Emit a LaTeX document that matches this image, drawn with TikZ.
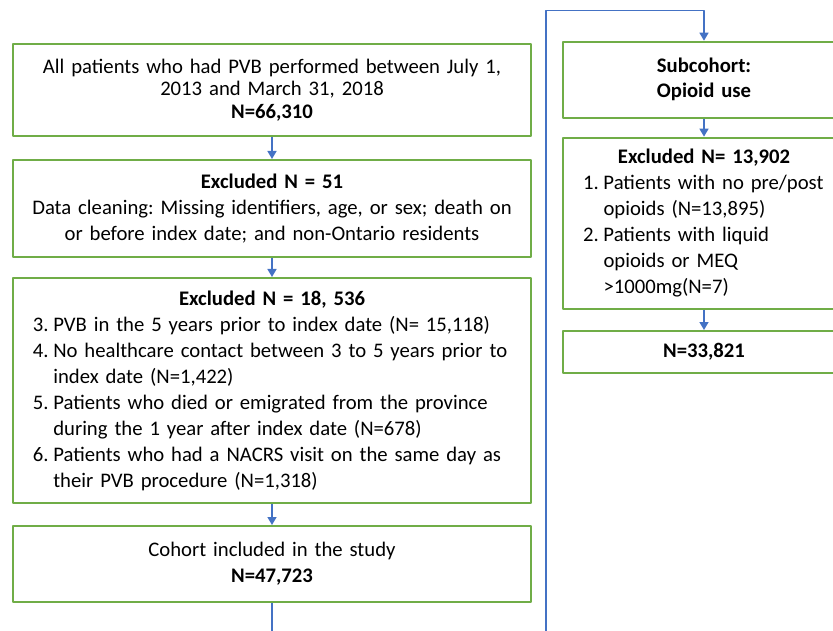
\documentclass[tikz,border=0pt]{standalone}
\usepackage{fontspec}
\setmainfont{Carlito}
\usetikzlibrary{arrows.meta}
\definecolor{boxgreen}{HTML}{70AD47}
\definecolor{lineblue}{HTML}{4472C4}
\newcommand{\listitem}[2]{\par\hangindent=20.5pt\hangafter=1\noindent\makebox[20.5pt][l]{#1}#2}
\frenchspacing
\begin{document}
\begin{tikzpicture}[x=1pt,y=-1pt,>={Triangle[width=9pt,length=8pt]}, line join=round,
	box/.style={draw=boxgreen,line width=2pt,inner sep=0pt,inner xsep=10pt,font=\fontsize{20.7}{26}\selectfont,align=center},
	left/.style={box,minimum width=517.4pt,text width=497.4pt},
	right/.style={box,minimum width=282pt,text width=262pt},
	arr/.style={draw=lineblue,line width=1.5pt,->}]
	\def\lx{272} \def\rx{704} % column centres
	
	\useasboundingbox (0,0) rectangle (833,631);
	\clip (0,0) rectangle (833,631);
	
	% main cohort
	\node[left,minimum height=92pt,font=\fontsize{20.7}{22.5}\selectfont] (all) at (\lx,90)
		{All patients who had PVB performed between July 1,\\ 2013 and March 31, 2018\\ \textbf{N=66,310}};
	\node[left,minimum height=97pt] (clean) at (\lx,208.5)
		{\textbf{Excluded N = 51}\\ Data cleaning: Missing identifiers, age, or sex; death on\\ or before index date; and non-Ontario residents};
	\node[left,minimum height=225pt,align=left] (excl) at (\lx,390.5)
		{{\centering\textbf{Excluded N = 18, 536}\par}\leftskip=9.5pt
		\listitem{3.}{PVB in the 5 years prior to index date (N= 15,118)}
		\listitem{4.}{No healthcare contact between 3 to 5 years prior to\newline index date (N=1,422)}
		\listitem{5.}{Patients who died or emigrated from the province\newline during the 1 year after index date (N=678)}
		\listitem{6.}{Patients who had a NACRS visit on the same day as\newline their PVB procedure (N=1,318)}\par};
	\node[left,minimum height=76pt] (cohort) at (\lx,564)
		{Cohort included in the study\\ \textbf{N=47,723}};
	
	% subcohort
	\node[right,minimum height=76pt,font=\fontsize{20.7}{25}\selectfont] (sub) at (\rx,79.7)
		{\textbf{Subcohort:}\\ \textbf{Opioid use}};
	\node[right,minimum height=171.3pt,align=left] (excl2) at (\rx,223.3)
		{{\centering\textbf{Excluded N= 13,902}\par}\leftskip=10pt
		\listitem{1.}{Patients with no pre/post\newline opioids (N=13,895)}
		\listitem{2.}{Patients with liquid\newline opioids or MEQ\newline >1000mg(N=7)}\par};
	\node[right,minimum height=42pt] (final) at (\rx,352) {\textbf{N=33,821}};
	
	\draw[arr] (all.south) -- (clean.north);
	\draw[arr] (clean.south) -- (excl.north);
	\draw[arr] (excl.south) -- (cohort.north);
	\draw[arr] (sub.south) -- (excl2.north);
	\draw[arr] (excl2.south) -- (final.north);
	
	\coordinate (bend) at (546,645);
	\coordinate (top) at (546,10.7);
	\draw[arr] (cohort.south) |- (bend) -- (top) -| (sub.north);
\end{tikzpicture}
\end{document}
